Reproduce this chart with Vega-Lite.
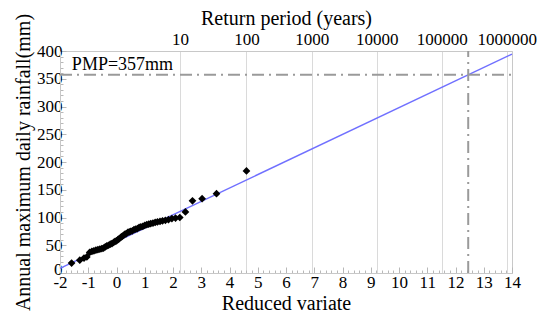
{
  "$schema": "https://vega.github.io/schema/vega-lite/v6.json",
  "width": 452,
  "height": 222,
  "autosize": {"type": "none"},
  "padding": {"left": 60, "top": 51, "right": 31, "bottom": 51},
  "background": "white",
  "config": {
    "font": "Liberation Serif, Times New Roman, serif",
    "view": {"stroke": "#c8c8c8", "strokeWidth": 1},
    "axis": {
      "labelColor": "black",
      "titleColor": "black",
      "titleFontWeight": "normal",
      "labelFont": "Liberation Serif, Times New Roman, serif",
      "titleFont": "Liberation Serif, Times New Roman, serif",
      "domainColor": "#c8c8c8",
      "tickColor": "#b8b8b8"
    },
    "text": {"font": "Liberation Serif, Times New Roman, serif"}
  },
  "datasets": {
    "obs": [
      {"rv": -1.59, "rain": 18},
      {"rv": -1.30, "rain": 23},
      {"rv": -1.15, "rain": 27},
      {"rv": -1.05, "rain": 29},
      {"rv": -0.95, "rain": 37},
      {"rv": -0.87, "rain": 39},
      {"rv": -0.80, "rain": 40},
      {"rv": -0.73, "rain": 41},
      {"rv": -0.66, "rain": 42},
      {"rv": -0.59, "rain": 43},
      {"rv": -0.52, "rain": 44},
      {"rv": -0.46, "rain": 45},
      {"rv": -0.40, "rain": 47},
      {"rv": -0.34, "rain": 49},
      {"rv": -0.28, "rain": 50},
      {"rv": -0.22, "rain": 52},
      {"rv": -0.16, "rain": 53},
      {"rv": -0.10, "rain": 55},
      {"rv": -0.05, "rain": 57},
      {"rv": 0.00, "rain": 58},
      {"rv": 0.05, "rain": 60},
      {"rv": 0.10, "rain": 62},
      {"rv": 0.15, "rain": 64},
      {"rv": 0.20, "rain": 66},
      {"rv": 0.25, "rain": 68},
      {"rv": 0.30, "rain": 70},
      {"rv": 0.35, "rain": 71},
      {"rv": 0.40, "rain": 73},
      {"rv": 0.45, "rain": 74},
      {"rv": 0.50, "rain": 75},
      {"rv": 0.56, "rain": 76},
      {"rv": 0.62, "rain": 78},
      {"rv": 0.68, "rain": 79},
      {"rv": 0.74, "rain": 80},
      {"rv": 0.80, "rain": 82},
      {"rv": 0.86, "rain": 83},
      {"rv": 0.93, "rain": 84},
      {"rv": 1.00, "rain": 86},
      {"rv": 1.07, "rain": 87},
      {"rv": 1.14, "rain": 88},
      {"rv": 1.21, "rain": 89},
      {"rv": 1.29, "rain": 90},
      {"rv": 1.37, "rain": 91},
      {"rv": 1.45, "rain": 92},
      {"rv": 1.54, "rain": 93},
      {"rv": 1.63, "rain": 94},
      {"rv": 1.73, "rain": 95},
      {"rv": 1.84, "rain": 96},
      {"rv": 1.96, "rain": 98},
      {"rv": 2.09, "rain": 99},
      {"rv": 2.24, "rain": 100},
      {"rv": 2.44, "rain": 110},
      {"rv": 2.69, "rain": 130},
      {"rv": 3.03, "rain": 134},
      {"rv": 3.54, "rain": 143},
      {"rv": 4.60, "rain": 184}
    ],
    "fit": [
      {"rv": -2, "rain": 8.5},
      {"rv": 14, "rain": 394.4}
    ],
    "pmp": [
      {"x1": -2, "x2": 14, "y1": 357, "y2": 357},
      {"x1": 12.45, "x2": 12.45, "y1": 0, "y2": 400}
    ],
    "note": [
      {"rv": -1.58, "rain": 366, "label": "PMP=357mm"}
    ]
  },
  "layer": [
    {
      "data": {"name": "fit"},
      "mark": {"type": "line", "color": "#7070ff", "strokeWidth": 1.4},
      "encoding": {
        "x": {
          "field": "rv", "type": "quantitative",
          "scale": {"domain": [-2, 14], "nice": false, "zero": false},
          "axis": {
            "orient": "top",
            "values": [2.2504, 4.6001, 6.9073, 9.2103, 11.5129, 13.8155],
            "labelExpr": "datum.value < 3 ? '10' : datum.value < 5 ? '100' : datum.value < 8 ? '1000' : datum.value < 10 ? '10000' : datum.value < 12 ? '100000' : '1000000'",
            "grid": true,
            "gridColor": "#dadada",
            "gridWidth": 1,
            "ticks": false,
            "labelFontSize": 17,
            "labelPadding": 3,
            "labelFlush": false,
            "labelOverlap": false,
            "title": "Return period (years)",
            "titleFontSize": 20,
            "titlePadding": 2
          }
        },
        "y": {
          "field": "rain", "type": "quantitative",
          "scale": {"domain": [0, 400], "nice": false, "zero": false},
          "axis": {
            "values": [0, 10, 20, 30, 40, 50, 60, 70, 80, 90, 100, 110, 120, 130, 140, 150, 160, 170, 180, 190, 200, 210, 220, 230, 240, 250, 260, 270, 280, 290, 300, 310, 320, 330, 340, 350, 360, 370, 380, 390, 400],
            "labelExpr": "datum.value % 50 == 0 ? '' + datum.value : ''",
            "labelOffset": {"condition": {"test": "datum.value == 0", "value": -4}, "value": 0},
            "tickSize": {"condition": {"test": "datum.value % 50 == 0", "value": -6}, "value": -3},
            "grid": false,
            "labelFontSize": 17,
            "labelPadding": 4,
            "labelOverlap": false,
            "labelFlush": false,
            "title": "Annual maximum daily rainfall(mm)",
            "titleFontSize": 20,
            "titlePadding": 3
          }
        }
      }
    },
    {
      "data": {"name": "pmp"},
      "mark": {"type": "rule", "color": "#9a9a9a", "strokeWidth": 2, "strokeDash": [12, 5, 2, 5]},
      "encoding": {
        "x": {"field": "x1", "type": "quantitative", "axis": null, "scale": {"domain": [-2, 14], "nice": false, "zero": false}},
        "x2": {"field": "x2"},
        "y": {"field": "y1", "type": "quantitative", "axis": null, "scale": {"domain": [0, 400], "nice": false, "zero": false}},
        "y2": {"field": "y2"}
      }
    },
    {
      "data": {"name": "obs"},
      "mark": {"type": "point", "shape": "diamond", "filled": true, "color": "black", "size": 60, "opacity": 1},
      "encoding": {
        "x": {
          "field": "rv", "type": "quantitative",
          "scale": {"domain": [-2, 14], "nice": false, "zero": false},
          "axis": {
            "orient": "bottom",
            "values": [-2, -1.8, -1.6, -1.4, -1.2, -1, -0.8, -0.6, -0.4, -0.2, 0, 0.2, 0.4, 0.6, 0.8, 1, 1.2, 1.4, 1.6, 1.8, 2, 2.2, 2.4, 2.6, 2.8, 3, 3.2, 3.4, 3.6, 3.8, 4, 4.2, 4.4, 4.6, 4.8, 5, 5.2, 5.4, 5.6, 5.8, 6, 6.2, 6.4, 6.6, 6.8, 7, 7.2, 7.4, 7.6, 7.8, 8, 8.2, 8.4, 8.6, 8.8, 9, 9.2, 9.4, 9.6, 9.8, 10, 10.2, 10.4, 10.6, 10.8, 11, 11.2, 11.4, 11.6, 11.8, 12, 12.2, 12.4, 12.6, 12.8, 13, 13.2, 13.4, 13.6, 13.8, 14],
            "labelExpr": "abs(datum.value - round(datum.value)) < 0.01 ? '' + round(datum.value) : ''",
            "tickSize": {"condition": {"test": "abs(datum.value - round(datum.value)) < 0.01", "value": -6}, "value": -3},
            "grid": false,
            "labelFontSize": 17,
            "labelPadding": 7,
            "labelFlush": false,
            "labelOverlap": false,
            "title": "Reduced variate",
            "titleFontSize": 20,
            "titlePadding": 0
          }
        },
        "y": {
          "field": "rain", "type": "quantitative",
          "scale": {"domain": [0, 400], "nice": false, "zero": false},
          "axis": null
        }
      }
    },
    {
      "data": {"name": "note"},
      "mark": {"type": "text", "align": "left", "baseline": "alphabetic", "fontSize": 18, "font": "Liberation Serif, Times New Roman, serif", "color": "black"},
      "encoding": {
        "x": {"field": "rv", "type": "quantitative", "axis": null, "scale": {"domain": [-2, 14], "nice": false, "zero": false}},
        "y": {"field": "rain", "type": "quantitative", "axis": null, "scale": {"domain": [0, 400], "nice": false, "zero": false}},
        "text": {"field": "label"}
      }
    }
  ],
  "resolve": {"axis": {"x": "independent", "y": "independent"}}
}
